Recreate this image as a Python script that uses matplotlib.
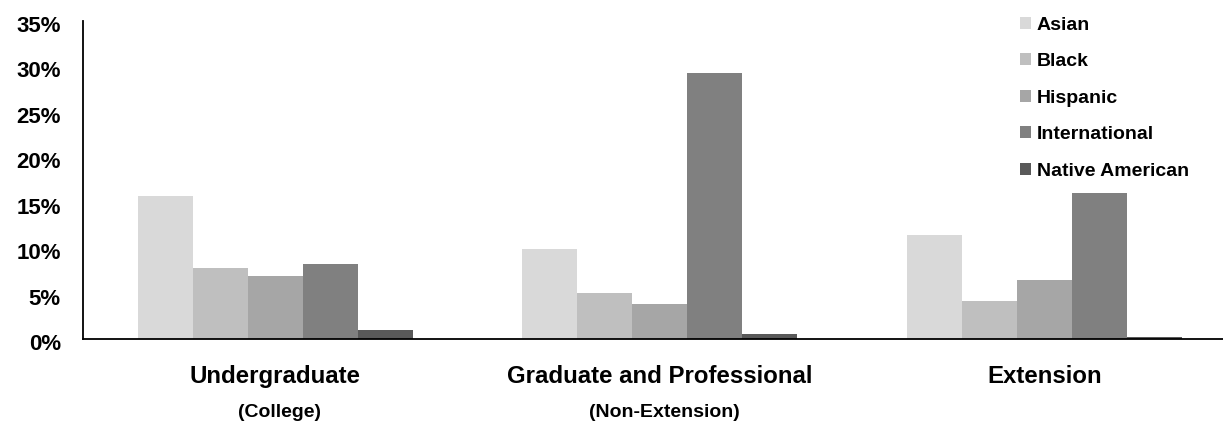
import numpy as np
import matplotlib.pyplot as plt
import matplotlib.transforms as mtransforms
from matplotlib.ticker import PercentFormatter

# Données (en %)
programmes = ['Undergraduate', 'Graduate and Professional', 'Extension']
sous_titres = ['(College)', '(Non-Extension)', '']
groupes = ['Asian', 'Black', 'Hispanic', 'International', 'Native American']
asian = [15.7, 9.9, 11.4]
black = [7.8, 5.1, 4.2]
hispanic = [6.9, 3.9, 6.5]
international = [8.3, 29.3, 16.1]
native = [1.0, 0.5, 0.2]
couleurs = ['#d9d9d9', '#bfbfbf', '#a6a6a6', '#808080', '#595959']

series = [asian, black, hispanic, international, native]

plt.rcParams['font.family'] = ['Liberation Sans', 'DejaVu Sans']
plt.rcParams['font.weight'] = 'bold'

fig = plt.figure(figsize=(12.23, 4.21), dpi=100)
ax = fig.add_axes([83 / 1223, 82 / 421, 1 - 83 / 1223, 318 / 421])

x = np.arange(len(programmes))
largeur = 0.143
for k, (valeurs, nom) in enumerate(zip(series, groupes)):
    pos = x + (k - 2) * largeur
    ax.bar(pos, valeurs, largeur, color=couleurs[k], label=nom, linewidth=0)

ax.set_xlim(-0.5, 2.465)
ax.set_ylim(0, 35)
ax.set_yticks(np.arange(0, 36, 5))
ax.yaxis.set_major_formatter(PercentFormatter(decimals=0))
ax.tick_params(axis='y', length=0, pad=16, labelsize=16)
# les étiquettes sont un peu plus basses que les graduations
decalage = mtransforms.ScaledTranslation(0, -3 / 100, fig.dpi_scale_trans)
for lab in ax.get_yticklabels():
    lab.set_transform(lab.get_transform() + decalage)

ax.set_xticks(x)
ax.set_xticklabels(programmes, fontsize=17.3, fontweight='bold')
ax.tick_params(axis='x', length=0, pad=18.5)

for xi, st in zip(x, sous_titres):
    if st:
        ax.annotate(st, xy=(xi, 0), xycoords=('data', 'axes fraction'),
                    xytext=(3, -47), textcoords='offset points',
                    ha='center', va='top', fontsize=14, fontweight='bold')

for cote in ['top', 'right']:
    ax.spines[cote].set_visible(False)
for cote in ['left', 'bottom']:
    ax.spines[cote].set_linewidth(1.3)

leg = ax.legend(loc='upper left', bbox_to_anchor=(1010 / 1223, 1 - 7 / 421),
                bbox_transform=fig.transFigure, frameon=False,
                handlelength=0.57, handleheight=0.57,
                handletextpad=0.3, labelspacing=1.0, borderpad=0,
                prop={'weight': 'bold', 'size': 14})

fig.savefig('out.png', dpi=100)
